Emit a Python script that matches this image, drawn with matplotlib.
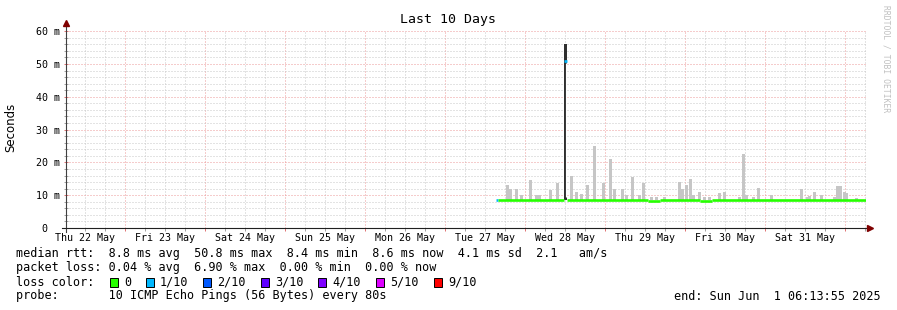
import matplotlib
matplotlib.use("Agg")
import matplotlib.pyplot as plt
import matplotlib.transforms as mtransforms
from matplotlib.patches import Rectangle
import numpy as np

W, H = 897, 310
MONO = "DejaVu Sans Mono"

# time axis: hours since Thu 22 May 06:13:55, 10 days shown
span_hours = 240
first_midnight = 17.77
day_labels = ["Thu 22 May", "Fri 23 May", "Sat 24 May", "Sun 25 May", "Mon 26 May",
              "Tue 27 May", "Wed 28 May", "Thu 29 May", "Fri 30 May", "Sat 31 May"]

# smoke (ping spread) tops in ms, min rtt as bottom
smoke_t = [132.0, 132.9, 134.7, 136.2, 138.9, 140.7, 141.6, 144.9, 147.0, 151.2,
           152.7, 154.2, 156.0, 158.1, 160.8, 162.9, 164.1, 166.5, 167.7, 169.5,
           171.6, 172.8, 175.2, 176.7, 179.1, 183.6, 184.5, 185.7, 186.9, 187.8,
           189.6, 191.1, 192.6, 195.6, 197.1, 201.6, 202.8, 203.7, 205.8, 207.3,
           211.2, 220.2, 222.0, 222.6, 224.1, 226.2, 230.1, 231.0, 231.9, 233.1,
           233.7, 236.7]
smoke_top = [13.1, 12.0, 12.0, 10.2, 14.6, 10.0, 10.0, 11.6, 13.7, 16.0,
             11.0, 10.5, 13.0, 25.0, 13.7, 21.0, 11.9, 12.0, 10.0, 15.6,
             10.0, 13.7, 9.6, 9.5, 9.5, 14.0, 12.0, 13.0, 14.9, 10.0,
             11.0, 9.5, 9.5, 10.8, 11.0, 9.5, 22.6, 10.0, 9.5, 12.2,
             10.0, 11.9, 9.5, 9.8, 11.0, 10.0, 9.5, 12.8, 12.8, 10.9,
             10.6, 9.0]
smoke_min = 8.4

# the big outlier on Wed 28 May
spike_t = 149.4
spike_top = 56.0

# median rtt steps: start hour, end hour, value (ms), lost pings out of 10
med_start = [129.0, 129.6, 149.4, 150.3, 174.6, 178.2, 190.2, 193.8]
med_end = [129.6, 149.4, 150.3, 174.6, 178.2, 190.2, 193.8, 240.0]
med_val = [8.5, 8.6, 50.8, 8.6, 8.1, 8.6, 8.1, 8.6]
med_loss = [1, 0, 1, 0, 0, 0, 0, 0]

loss_labels = ["0", "1/10", "2/10", "3/10", "4/10", "5/10", "9/10"]
loss_colors = ["#26ff00", "#00b8ff", "#0059ff", "#5e00ff", "#7e00ff", "#dd00ff", "#ff0000"]

stats_line = "median rtt:  8.8 ms avg  50.8 ms max  8.4 ms min  8.6 ms now  4.1 ms sd  2.1   am/s"
loss_line = "packet loss: 0.04 % avg  6.90 % max  0.00 % min  0.00 % now"
probe_line = "probe:       10 ICMP Echo Pings (56 Bytes) every 80s"
end_line = "end: Sun Jun  1 06:13:55 2025"

y_ticks = [0, 10, 20, 30, 40, 50, 60]
y_labels = ["0  ", "10 m", "20 m", "30 m", "40 m", "50 m", "60 m"]


def fx(px):
    return px / W


def fy(py):
    return 1 - py / H


fig = plt.figure(figsize=(W / 100, H / 100), dpi=100, facecolor="white")
ax = fig.add_axes([fx(66), fy(228), (866 - 66) / W, (228 - 31.2) / H])
ax.set_xlim(0, span_hours)
ax.set_ylim(0, 60)

# grid
midnights = np.arange(first_midnight, span_hours, 24)
six_hours = np.arange(first_midnight - 12, span_hours, 6)
ax.set_xticks(midnights)
ax.set_xticks(six_hours, minor=True)
ax.set_yticks(y_ticks, y_labels)
ax.set_yticks(np.arange(0, 61, 2), minor=True)
ax.grid(which="minor", color="#c8c8c8", lw=0.72, ls=(0, (1, 2)))
ax.grid(which="major", color="#ec9a9a", lw=0.72, ls=(0, (1, 2)))
ax.set_axisbelow(True)
ax.tick_params(axis="x", which="both", labelbottom=False, direction="out", length=2.5, width=0.7)
ax.tick_params(axis="x", which="major", color="#e07070")
ax.tick_params(axis="x", which="minor", color="#a0a0a0")
ax.tick_params(axis="y", which="both", direction="inout", length=3, width=0.7, pad=2.5,
               labelsize=7.2)
ax.tick_params(axis="y", which="major", color="#e07070")
ax.tick_params(axis="y", which="minor", color="#a0a0a0")
for lab in ax.get_yticklabels():
    lab.set_fontfamily(MONO)
for s in ["top", "right", "left", "bottom"]:
    ax.spines[s].set_visible(False)

# smoke
ax.bar(smoke_t, np.array(smoke_top) - smoke_min, bottom=smoke_min, width=0.8,
       align="edge", color="#c6c6c6", lw=0, zorder=2)
ax.bar([spike_t], [spike_top - smoke_min], bottom=smoke_min, width=0.9,
       align="edge", color="#303030", lw=0, zorder=3)
ax.vlines(spike_t + 0.45, 9.5, 50.2, color="white", lw=0.8, zorder=4)

# median line coloured by loss
for t0, t1, v, l in zip(med_start, med_end, med_val, med_loss):
    ax.plot([t0, t1], [v, v], color=loss_colors[l], lw=1.9, solid_capstyle="butt", zorder=5)

# axes with arrows
ax.plot([0, 0], [-1.2, 62.3], color="#404040", lw=0.8, clip_on=False, zorder=6)
ax.plot([-1.2, 241], [0, 0], color="#202020", lw=0.8, clip_on=False, zorder=6)
ax.plot([0], [62.6], marker="^", ms=4, color="#7f0000", clip_on=False, zorder=7)
ax.plot([241.3], [0], marker=">", ms=4, color="#7f0000", clip_on=False, zorder=7)

# day labels centred on noon
lab_tr = mtransforms.blended_transform_factory(ax.transData, ax.transAxes)
for i, lab in enumerate(day_labels):
    ax.text(first_midnight - 12 + 24 * i, -10 / 196.8, lab, transform=lab_tr,
            ha="center", va="center", fontsize=7.2, family=MONO, color="black")

fig.text(fx(448), fy(19), "Last 10 Days", ha="center", va="center", fontsize=9.5, family=MONO)
fig.text(fx(11), fy(127), "Seconds", rotation=90, ha="center", va="center", fontsize=8.5,
         family="DejaVu Sans")
fig.text(fx(886), fy(59), "RRDTOOL / TOBI OETIKER", rotation=270, ha="center", va="center",
         fontsize=5.8, family=MONO, color="#c0c0c0")

# legend block
cw = 7.2
fig.text(fx(16), fy(254), stats_line, ha="left", va="center", fontsize=8.5, family=MONO)
fig.text(fx(16), fy(268), loss_line, ha="left", va="center", fontsize=8.5, family=MONO)
fig.text(fx(16), fy(282), "loss color:", ha="left", va="center", fontsize=8.5, family=MONO)
col = 13
for lab, c in zip(loss_labels, loss_colors):
    x0 = 16 + col * cw
    fig.patches.append(Rectangle((fx(x0), fy(287)), 8 / W, 9 / H, transform=fig.transFigure,
                                 facecolor=c, edgecolor="black", lw=0.7))
    fig.text(fx(16 + (col + 2) * cw), fy(282), lab, ha="left", va="center", fontsize=8.5,
             family=MONO)
    col += 2 + len(lab) + 2
fig.text(fx(16), fy(296), probe_line, ha="left", va="center", fontsize=8.5, family=MONO)
fig.text(fx(881), fy(296), end_line, ha="right", va="center", fontsize=8.5, family=MONO)

fig.savefig("out.png", dpi=100, facecolor="white")
